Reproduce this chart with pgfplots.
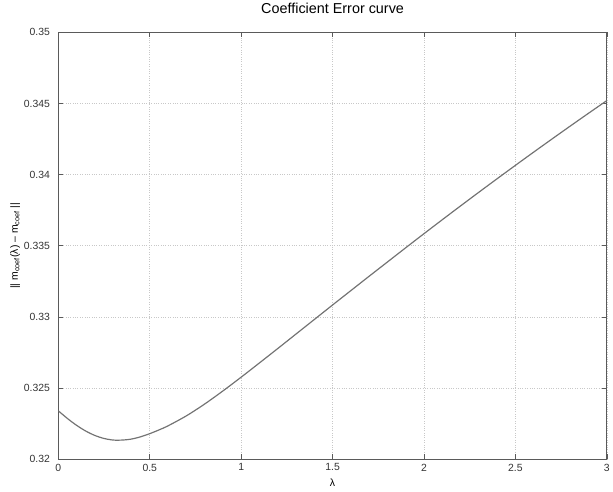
\documentclass[border=0pt]{standalone}
\usepackage{fontspec}
\setmainfont{Liberation Sans}
\usepackage{pgfplots}
\pgfplotsset{compat=1.18}

\definecolor{curvegray}{RGB}{115,115,115}
\definecolor{gridgray}{RGB}{200,200,200}
\definecolor{axisgray}{RGB}{90,90,90}

\begin{document}
\begin{tikzpicture}
\begin{axis}[
scale only axis,
width=551bp, height=429bp,
xmin=0, xmax=3,
ymin=0.32, ymax=0.35,
xtick={0,0.5,...,3},
ytick={0.32,0.325,...,0.35},
yticklabel style={/pgf/number format/fixed, /pgf/number format/precision=3, xshift=-5bp},
xticklabel style={/pgf/number format/fixed, yshift=-1bp},
/pgf/number format/assume math mode=true,
tick align=inside,
tick pos=both,
major tick length=5bp,
ticklabel style={font=\fontsize{10.5}{11}\selectfont, text=black!80},
axis line style={axisgray, line width=0.8pt},
every tick/.style={axisgray, line width=0.6pt},
grid=major,
major grid style={gridgray, dotted, line width=0.6pt},
title={Coefficient Error curve},
title style={font=\fontsize{14.5}{15}\selectfont, yshift=9bp},
xlabel={λ},
xlabel style={font=\fontsize{10.5}{11}\selectfont, yshift=-1bp},
ylabel={|| m\textsubscript{coef}(λ) -- m\textsubscript{coef} ||},
ylabel style={font=\fontsize{10.5}{11}\selectfont, yshift=-3bp},
]
\addplot[curvegray, line width=1.2pt, smooth] coordinates {
(0,0.32340) (0.05,0.32286) (0.1,0.32238) (0.15,0.32198) (0.2,0.32167)
(0.25,0.32146) (0.3,0.32135) (0.35,0.32135) (0.4,0.32142) (0.45,0.32158)
(0.5,0.32180) (0.55,0.32206) (0.6,0.32235) (0.7,0.32305) (0.8,0.32388)
(0.9,0.32480) (1.0,0.32577) (1.1,0.32677) (1.2,0.32778) (1.3,0.32880)
(1.4,0.32982) (1.5,0.33084) (1.6,0.33185) (1.7,0.33286) (1.8,0.33386)
(1.9,0.33486) (2.0,0.33585) (2.1,0.33683) (2.2,0.33780) (2.3,0.33876)
(2.4,0.33971) (2.5,0.34065) (2.6,0.34158) (2.7,0.34250) (2.8,0.34341)
(2.9,0.34431) (3.0,0.34520)
};
\end{axis}
\path ([xshift=-7bp,yshift=-2bp]current axis.outer south west);
\end{tikzpicture}
\end{document}
